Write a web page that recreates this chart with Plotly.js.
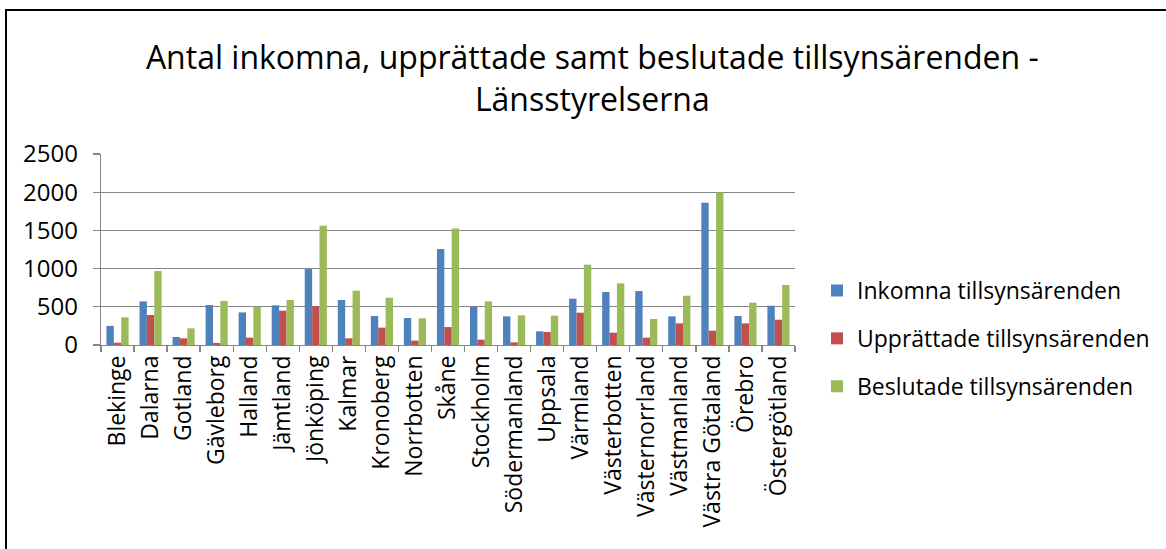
<!DOCTYPE html>
<html>
<head>
<meta charset="utf-8">
<script src="https://cdn.plot.ly/plotly-3.0.1.min.js"></script>
<style>
html,body{margin:0;padding:0;background:#fff;overflow:hidden;}
#frame{position:absolute;left:5px;top:9px;width:1200px;height:600px;border:2.5px solid #000;box-sizing:border-box;pointer-events:none;z-index:10;}
#chart{position:absolute;left:0;top:0;width:1166px;height:549px;}
</style>
</head>
<body>
<div id="chart"></div>
<div id="frame"></div>
<script>
const categories = ["Blekinge","Dalarna","Gotland","Gävleborg","Halland","Jämtland","Jönköping","Kalmar","Kronoberg","Norrbotten","Skåne","Stockholm","Södermanland","Uppsala","Värmland","Västerbotten","Västernorrland","Västmanland","Västra Götaland","Örebro","Östergötland"];
const inkomna =    [250, 571, 105, 523, 427, 519,  994, 589, 379, 353, 1256, 501, 375, 179,  606, 693, 706, 375, 1862, 379, 514];
const upprattade = [ 30, 392,  87,  26,  96, 449,  510,  87, 227,  57,  235,  70,  35, 170,  423, 161,  96, 283,  187, 283, 331];
const beslutade =  [362, 968, 218, 575, 501, 589, 1561, 711, 619, 349, 1526, 571, 388, 384, 1051, 807, 340, 645, 1997, 554, 785];
const seriesNames = ["Inkomna tillsynsärenden","Upprättade tillsynsärenden","Beslutade tillsynsärenden"];
const colors = ["#4F81BD","#C0504D","#9BBB59"];
const yTicks = [0,500,1000,1500,2000,2500];

const font = "'Open Sans', sans-serif";
const data = [inkomna, upprattade, beslutade].map((vals,i)=>({
  type:'bar', x:categories, y:vals, name:seriesNames[i], legendgroup:'g'+i,
  marker:{color:colors[i], line:{width:0}}
}));

const layout = {
  width:1166, height:549,
  margin:{l:101, r:371, t:154, b:204, pad:0},
  paper_bgcolor:'#fff', plot_bgcolor:'#fff',
  font:{family:font, color:'#000'},
  title:{
    text:"Antal inkomna, upprättade samt beslutade tillsynsärenden -<br>Länsstyrelserna",
    font:{family:font, size:32, color:'#000'},
    xref:'container', x:0.508, xanchor:'center',
    yref:'container', y:0.874, yanchor:'top'
  },
  barmode:'group', bargap:0.33, bargroupgap:0,
  xaxis:{
    type:'category', tickangle:-90, tickfont:{size:23, family:font},
    ticks:'outside', tickson:'boundaries', ticklen:6, tickcolor:'#868686', tickwidth:1.3,
    showline:true, linecolor:'#868686', linewidth:1.3, showgrid:false, automargin:false
  },
  yaxis:{
    range:[0,2500], tickvals:yTicks, ticktext:yTicks.map(String),
    tickfont:{size:24, family:font},
    ticks:'outside', ticklen:7, tickcolor:'#868686', tickwidth:1.3,
    showline:true, linecolor:'#868686', linewidth:1.3,
    showgrid:true, gridcolor:'#868686', gridwidth:1.3, zeroline:false,
    ticklabelstandoff:10, automargin:false
  },
  legend:{
    xref:'container', yref:'container',
    x:0.7007, xanchor:'left', y:0.51, yanchor:'top',
    font:{size:23, family:font}, traceorder:'grouped', tracegroupgap:15,
    itemwidth:30, bgcolor:'rgba(0,0,0,0)'
  },
  showlegend:true
};
Plotly.newPlot('chart', data, layout, {displayModeBar:false, staticPlot:true});
</script>
</body>
</html>
